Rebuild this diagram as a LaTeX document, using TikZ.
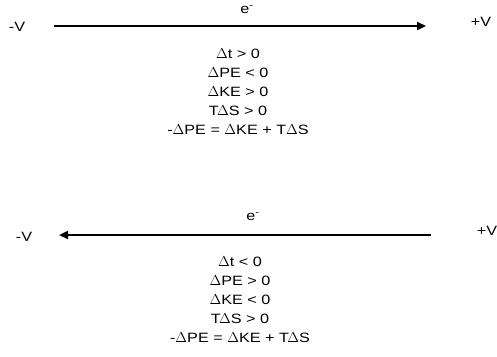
\documentclass[tikz,border=0pt]{standalone}
\usepackage{fontspec}
\setmainfont[FakeStretch=1.2]{Liberation Sans}
\usetikzlibrary{arrows.meta}
\tikzset{lbl/.style={font=\fontsize{13.5}{19}\selectfont, inner sep=0pt},
    eflow/.style={line width=2.7pt, -{Triangle[length=9pt,width=8pt]}}}

\begin{document}
\begin{tikzpicture}[x=1pt,y=-1pt]
    \useasboundingbox (0,0) rectangle (497,356);

    % electron moves from -V to +V
    \node[lbl] (negA) at (17,27) {-V};
    \node[lbl] (posA) at (481,22) {+V};
    \coordinate (tailA) at (54,26);
    \coordinate (headA) at (426,26);
    \draw[eflow] (tailA) -- (headA);
    \node[lbl] (elecA) at (247,10) {e\textsuperscript{-}};
    \node[lbl,align=center] (relA) at (238,92)
    {\(\Delta\)t > 0\\\(\Delta\)PE < 0\\\(\Delta\)KE > 0\\\(\mathrm{T}\Delta\)S > 0\\-\(\Delta\)PE = \(\Delta\)KE + T\(\Delta\)S};

    % electron moves from +V to -V
    \node[lbl] (negB) at (24,237) {-V};
    \node[lbl] (posB) at (487,231) {+V};
    \coordinate (tailB) at (431,235);
    \coordinate (headB) at (59,235);
    \draw[eflow] (tailB) -- (headB);
    \node[lbl] (elecB) at (253,217) {e\textsuperscript{-}};
    \node[lbl,align=center] (relB) at (240,300)
    {\(\Delta\)t < 0\\\(\Delta\)PE > 0\\\(\Delta\)KE < 0\\\(\mathrm{T}\Delta\)S > 0\\-\(\Delta\)PE = \(\Delta\)KE + \(\mathrm{T}\Delta\)S};
\end{tikzpicture}
\end{document}
